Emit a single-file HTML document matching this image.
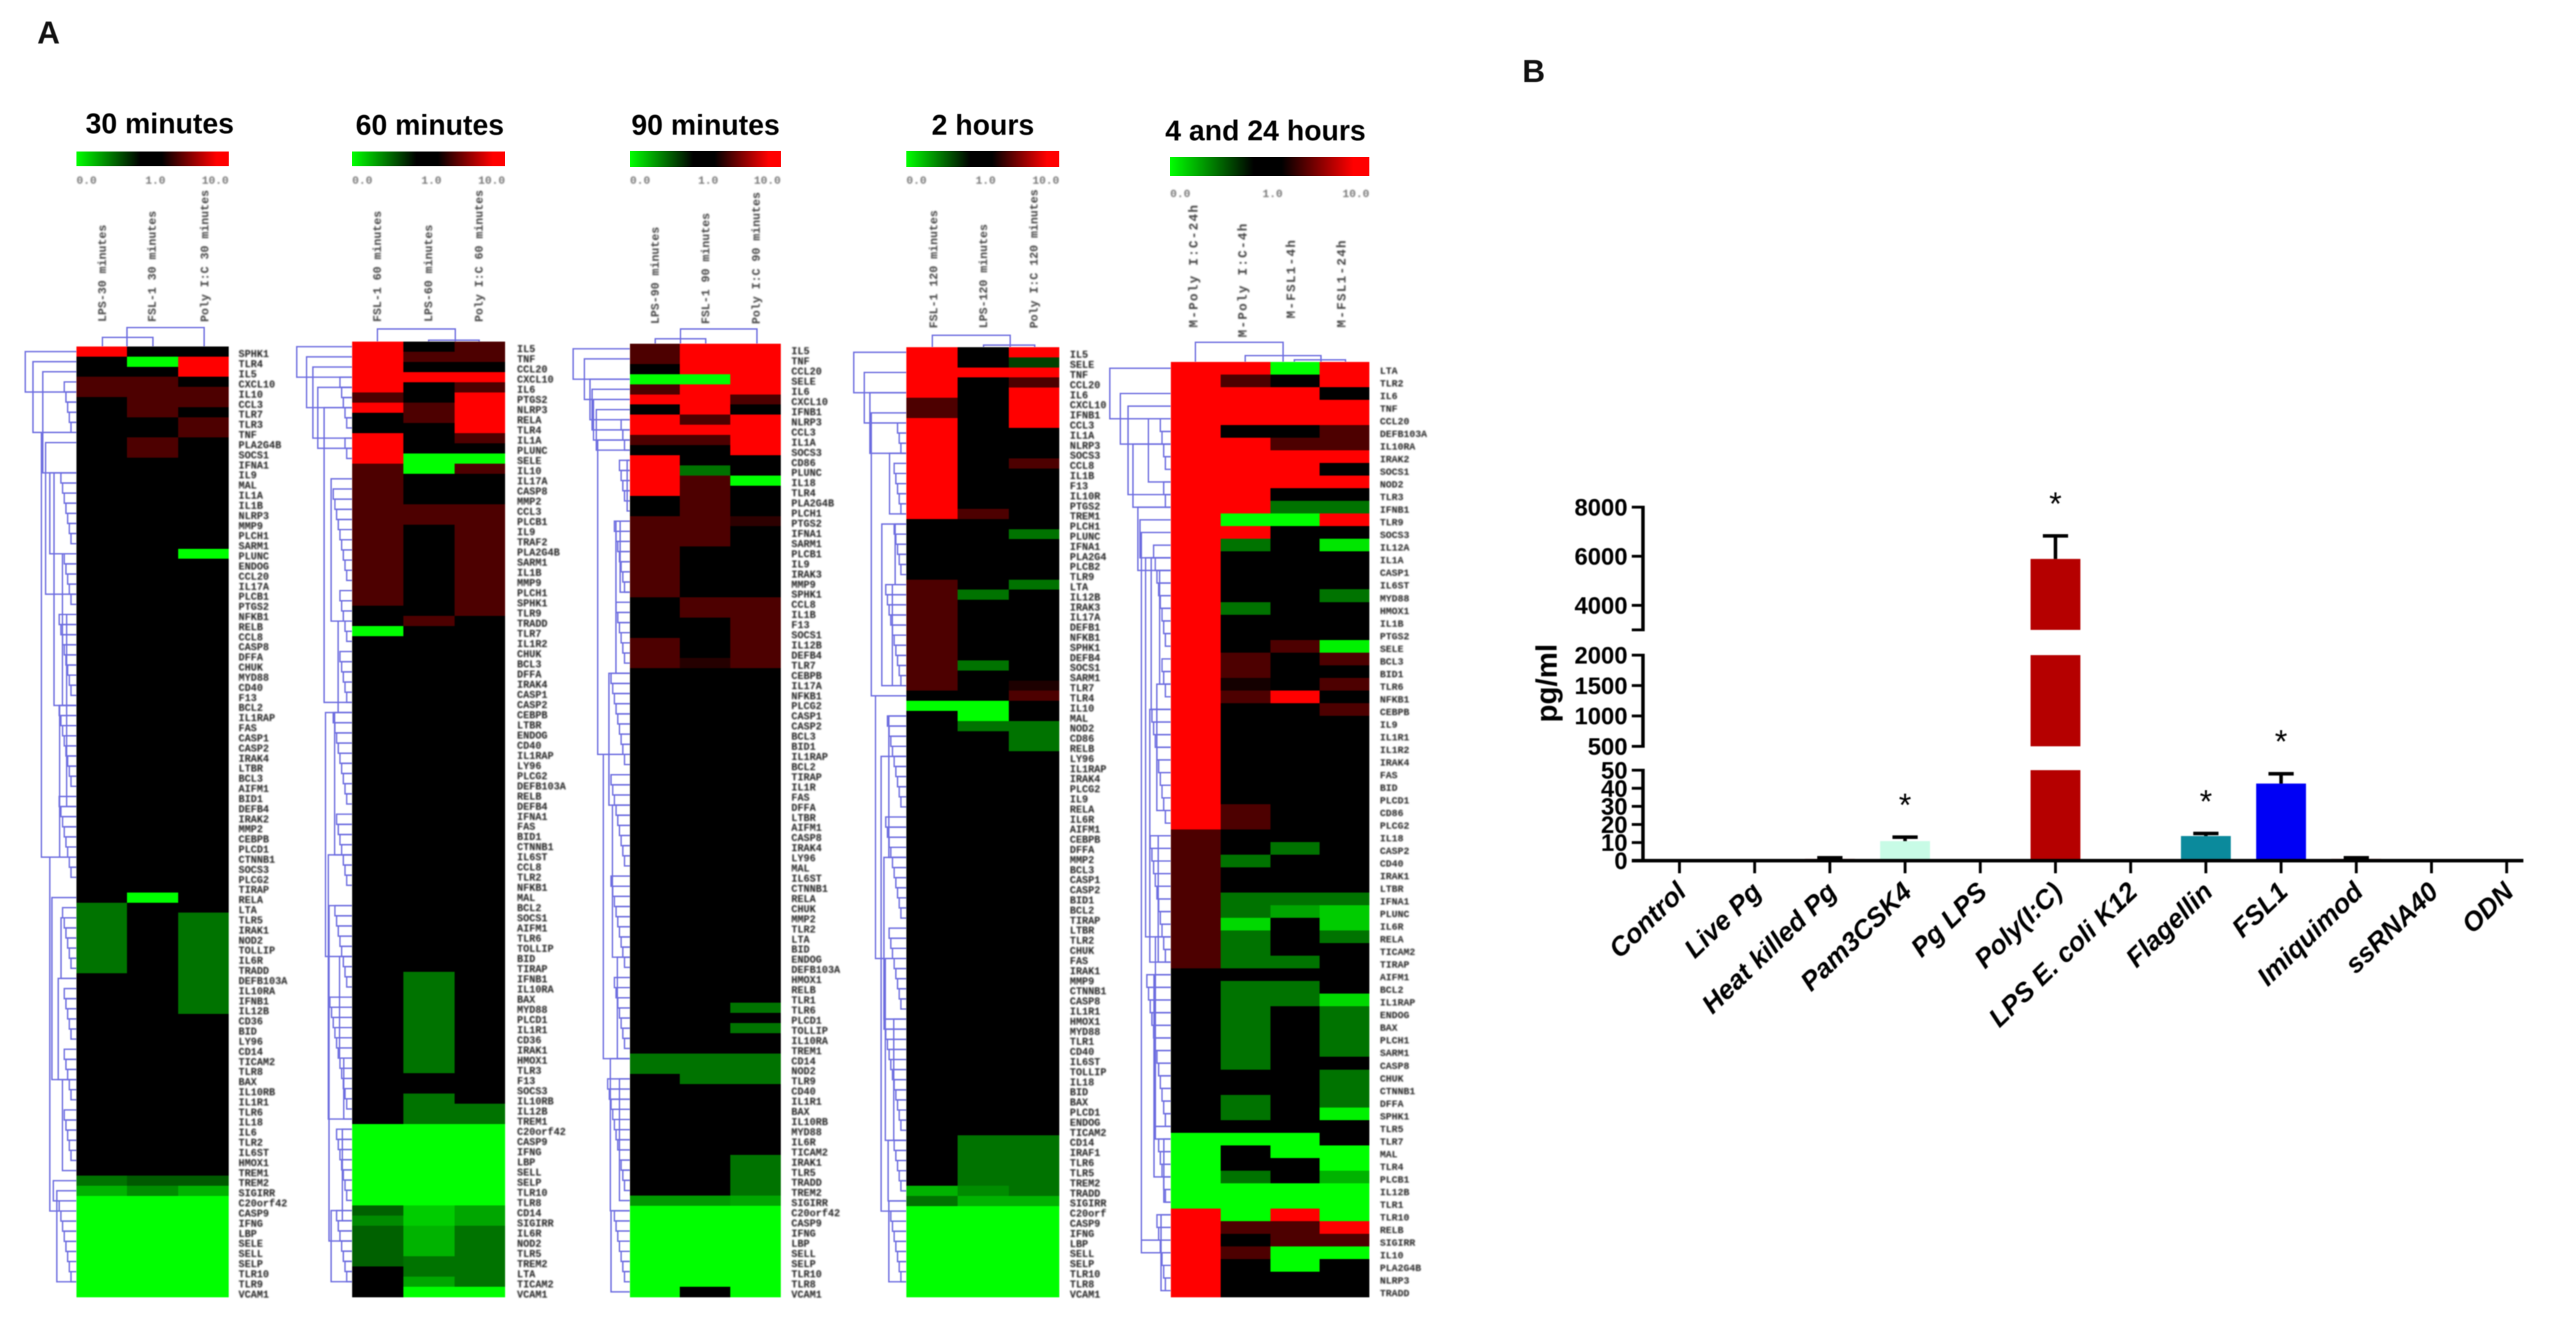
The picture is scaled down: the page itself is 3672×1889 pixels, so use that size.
<!DOCTYPE html>
<html lang="en">
<head>
<meta charset="utf-8">
<title>Cytokine expression heatmaps and TLR ligand response</title>
<style>
html,body{margin:0;padding:0;background:#fff;}
svg{display:block;}
.title{font-family:"Liberation Sans",sans-serif;font-weight:bold;font-size:40.5px;fill:#000;filter:blur(0.6px);}
.panel{font-family:"Liberation Sans",sans-serif;font-weight:bold;font-size:45px;fill:#111;filter:blur(0.5px);}
.gene{font-family:"Liberation Mono",monospace;font-weight:bold;font-size:14.5px;fill:#222;}
.gene5{font-size:14px;}
.scale{font-family:"Liberation Mono",monospace;font-weight:bold;font-size:16px;fill:#777;}
.col{font-family:"Liberation Mono",monospace;font-weight:bold;font-size:16.5px;fill:#444;}
.col5{font-size:18px;letter-spacing:1.8px;}
.ytick{font-family:"Liberation Sans",sans-serif;font-weight:bold;font-size:34px;fill:#000;}
.xtick{font-family:"Liberation Sans",sans-serif;font-weight:bold;font-style:italic;font-size:38px;fill:#000;}
.ytitle{font-family:"Liberation Sans",sans-serif;font-weight:bold;font-size:42px;fill:#000;}
.star{font-family:"Liberation Sans",sans-serif;font-weight:normal;font-size:46px;fill:#000;}
.soft{filter:blur(1px);}
.softer{filter:blur(0.7px);}
.genes{filter:blur(1px);}
.heat{filter:blur(0.7px);}
</style>
</head>
<body>
<svg id="root" xmlns="http://www.w3.org/2000/svg" width="3672" height="1889" viewBox="0 0 3672 1889">
<defs>
<linearGradient id="scaleGrad" x1="0" x2="1" y1="0" y2="0">
<stop offset="0" stop-color="#00ff00"/>
<stop offset="0.42" stop-color="#000000"/>
<stop offset="0.56" stop-color="#000000"/>
<stop offset="0.92" stop-color="#ff0000"/>
<stop offset="1" stop-color="#ff0000"/>
</linearGradient>
</defs>
<rect x="0" y="0" width="3672" height="1889" fill="#ffffff"/>
<text class="panel" x="53" y="62">A</text>
<text class="panel" x="2170" y="117">B</text>
<g id="heatLayer"></g>
<g id="barLayer"></g>
</svg>
<script>
/* ---------- Heatmap data: fold change per gene, one array per condition ---------- */
const genes30 = ["SPHK1","TLR4","IL5","CXCL10","IL10","CCL3","TLR7","TLR3","TNF","PLA2G4B","SOCS1","IFNA1","IL9","MAL","IL1A","IL1B","NLRP3","MMP9","PLCH1","SARM1","PLUNC","ENDOG","CCL20","IL17A","PLCB1","PTGS2","NFKB1","RELB","CCL8","CASP8","DFFA","CHUK","MYD88","CD40","F13","BCL2","IL1RAP","FAS","CASP1","CASP2","IRAK4","LTBR","BCL3","AIFM1","BID1","DEFB4","IRAK2","MMP2","CEBPB","PLCD1","CTNNB1","SOCS3","PLCG2","TIRAP","RELA","LTA","TLR5","IRAK1","NOD2","TOLLIP","IL6R","TRADD","DEFB103A","IL10RA","IFNB1","IL12B","CD36","BID","LY96","CD14","TICAM2","TLR8","BAX","IL10RB","IL1R1","TLR6","IL18","IL6","TLR2","IL6ST","HMOX1","TREM1","TREM2","SIGIRR","C20orf42","CASP9","IFNG","LBP","SELE","SELL","SELP","TLR10","TLR9","VCAM1"];
const lps30 = [10,1,1,2,2,1,1,1,1,1,
 1,1,1,1,1,1,1,1,1,1,
 1,1,1,1,1,1,1,1,1,1,
 1,1,1,1,1,1,1,1,1,1,
 1,1,1,1,1,1,1,1,1,1,
 1,1,1,1,1,.55,.55,.55,.55,.55,
 .55,.55,1,1,1,1,1,1,1,1,
 1,1,1,1,1,1,1,1,1,1,
 1,1,.55,.3,0,0,0,0,0,0,
 0,0,0,0];
const fsl30 = [1,0,1,2,2,2,2,1,1,2,
 2,1,1,1,1,1,1,1,1,1,
 1,1,1,1,1,1,1,1,1,1,
 1,1,1,1,1,1,1,1,1,1,
 1,1,1,1,1,1,1,1,1,1,
 1,1,1,1,0,1,1,1,1,1,
 1,1,1,1,1,1,1,1,1,1,
 1,1,1,1,1,1,1,1,1,1,
 1,1,.65,.45,0,0,0,0,0,0,
 0,0,0,0];
const poly30 = [1,10,10,1,2,2,1,2,2,1,
 1,1,1,1,1,1,1,1,1,1,
 0,1,1,1,1,1,1,1,1,1,
 1,1,1,1,1,1,1,1,1,1,
 1,1,1,1,1,1,1,1,1,1,
 1,1,1,1,1,1,.55,.55,.55,.55,
 .55,.55,.55,.55,.55,.55,1,1,1,1,
 1,1,1,1,1,1,1,1,1,1,
 1,1,.65,.3,0,0,0,0,0,0,
 0,0,0,0];

const genes60 = ["IL5","TNF","CCL20","CXCL10","IL6","PTGS2","NLRP3","RELA","TLR4","IL1A","PLUNC","SELE","IL10","IL17A","CASP8","MMP2","CCL3","PLCB1","IL9","TRAF2","PLA2G4B","SARM1","IL1B","MMP9","PLCH1","SPHK1","TLR9","TRADD","TLR7","IL1R2","CHUK","BCL3","DFFA","IRAK4","CASP1","CASP2","CEBPB","LTBR","ENDOG","CD40","IL1RAP","LY96","PLCG2","DEFB103A","RELB","DEFB4","IFNA1","FAS","BID1","CTNNB1","IL6ST","CCL8","TLR2","NFKB1","MAL","BCL2","SOCS1","AIFM1","TLR6","TOLLIP","BID","TIRAP","IFNB1","IL10RA","BAX","MYD88","PLCD1","IL1R1","CD36","IRAK1","HMOX1","TLR3","F13","SOCS3","IL10RB","IL12B","TREM1","C20orf42","CASP9","IFNG","LBP","SELL","SELP","TLR10","TLR8","CD14","SIGIRR","IL6R","NOD2","TLR5","TREM2","LTA","TICAM2","VCAM1"];
const fsl60 = [10,10,10,10,10,2,10,1,1,10,
 10,10,2,2,2,2,2,2,2,2,
 2,2,2,2,2,2,1,1,0,1,
 1,1,1,1,1,1,1,1,1,1,
 1,1,1,1,1,1,1,1,1,1,
 1,1,1,1,1,1,1,1,1,1,
 1,1,1,1,1,1,1,1,1,1,
 1,1,1,1,1,1,1,0,0,0,
 0,0,0,0,0,.62,.45,.62,.62,.62,
 .62,1,1,1];
const lps60 = [1,2,1,10,1,1,2,2,1,1,
 1,0,0,1,1,1,2,2,1,1,
 1,1,1,1,1,1,1,2,1,1,
 1,1,1,1,1,1,1,1,1,1,
 1,1,1,1,1,1,1,1,1,1,
 1,1,1,1,1,1,1,1,1,1,
 1,1,.55,.55,.55,.55,.55,.55,.55,.55,
 .55,.55,1,1,.55,.55,.55,0,0,0,
 0,0,0,0,0,.2,.2,.3,.3,.3,
 .55,.55,.35,0];
const poly60 = [2,2,1,10,2,10,10,10,10,2,
 1,0,2,1,1,1,2,2,2,2,
 2,2,2,2,2,2,2,1,1,1,
 1,1,1,1,1,1,1,1,1,1,
 1,1,1,1,1,1,1,1,1,1,
 1,1,1,1,1,1,1,1,1,1,
 1,1,1,1,1,1,1,1,1,1,
 1,1,1,1,1,.55,.55,0,0,0,
 0,0,0,0,0,.35,.35,.55,.55,.55,
 .55,.55,.55,0];

const genes90 = ["IL5","TNF","CCL20","SELE","IL6","CXCL10","IFNB1","NLRP3","CCL3","IL1A","SOCS3","CD86","PLUNC","IL18","TLR4","PLA2G4B","PLCH1","PTGS2","IFNA1","SARM1","PLCB1","IL9","IRAK3","MMP9","SPHK1","CCL8","IL1B","F13","SOCS1","IL12B","DEFB4","TLR7","CEBPB","IL17A","NFKB1","PLCG2","CASP1","CASP2","BCL3","BID1","IL1RAP","BCL2","TIRAP","IL1R","FAS","DFFA","LTBR","AIFM1","CASP8","IRAK4","LY96","MAL","IL6ST","CTNNB1","RELA","CHUK","MMP2","TLR2","LTA","BID","ENDOG","DEFB103A","HMOX1","RELB","TLR1","TLR6","PLCD1","TOLLIP","IL10RA","TREM1","CD14","NOD2","TLR9","CD40","IL1R1","BAX","IL10RB","MYD88","IL6R","TICAM2","IRAK1","TLR5","TRADD","TREM2","SIGIRR","C20orf42","CASP9","IFNG","LBP","SELL","SELP","TLR10","TLR8","VCAM1"];
const lps90 = [2,2,1,0,2,10,1,10,10,2,
 1,10,10,10,10,1,1,2,2,2,
 2,2,2,2,2,1,1,1,1,2,
 2,2,1,1,1,1,1,1,1,1,
 1,1,1,1,1,1,1,1,1,1,
 1,1,1,1,1,1,1,1,1,1,
 1,1,1,1,1,1,1,1,1,1,
 .55,.55,1,1,1,1,1,1,1,1,
 1,1,1,1,.4,0,0,0,0,0,
 0,0,0,0];
const fsl90 = [10,10,10,0,10,10,10,2,10,2,
 1,1,.55,2,2,2,2,2,2,2,
 1,1,1,1,1,2,2,1,1,1,
 1,1.4,1,1,1,1,1,1,1,1,
 1,1,1,1,1,1,1,1,1,1,
 1,1,1,1,1,1,1,1,1,1,
 1,1,1,1,1,1,1,1,1,1,
 .55,.55,.55,1,1,1,1,1,1,1,
 1,1,1,1,.4,0,0,0,0,0,
 0,0,0,1];
const poly90 = [10,10,10,10,10,2,1,10,10,10,
 10,1,1,0,1,1,1,1.5,1,1,
 1,1,1,1,1,2,2,2,2,2,
 2,2,1,1,1,1,1,1,1,1,
 1,1,1,1,1,1,1,1,1,1,
 1,1,1,1,1,1,1,1,1,1,
 1,1,1,1,1,.55,1,.55,1,1,
 .55,.55,.55,1,1,1,1,1,1,1,
 .55,.55,.55,.55,.35,0,0,0,0,0,
 0,0,0,0];

const genes120 = ["IL5","SELE","TNF","CCL20","IL6","CXCL10","IFNB1","CCL3","IL1A","NLRP3","SOCS3","CCL8","IL1B","F13","IL10R","PTGS2","TREM1","PLCH1","PLUNC","IFNA1","PLA2G4","PLCB2","TLR9","LTA","IL12B","IRAK3","IL17A","DEFB1","NFKB1","SPHK1","DEFB4","SOCS1","SARM1","TLR7","TLR4","IL10","MAL","NOD2","CD86","RELB","LY96","IL1RAP","IRAK4","PLCG2","IL9","RELA","IL6R","AIFM1","CEBPB","DFFA","MMP2","BCL3","CASP1","CASP2","BID1","BCL2","TIRAP","LTBR","TLR2","CHUK","FAS","IRAK1","MMP9","CTNNB1","CASP8","IL1R1","HMOX1","MYD88","TLR1","CD40","IL6ST","TOLLIP","IL18","BID","BAX","PLCD1","ENDOG","TICAM2","CD14","IRAF1","TLR6","TLR5","TREM2","TRADD","SIGIRR","C20orf","CASP9","IFNG","LBP","SELL","SELP","TLR10","TLR8","VCAM1"];
const fsl120 = [10,10,10,10,10,2,2,10,10,10,
 10,10,10,10,10,10,10,1,1,1,
 1,1,1,2,2,2,2,2,2,2,
 2,2,2,2,1,0,1,1,1,1,
 1,1,1,1,1,1,1,1,1,1,
 1,1,1,1,1,1,1,1,1,1,
 1,1,1,1,1,1,1,1,1,1,
 1,1,1,1,1,1,1,1,1,1,
 1,1,1,.3,.55,0,0,0,0,0,
 0,0,0,0];
const lps120 = [1,1,10,1,1,1,1,1,1,1,
 1,1,1,1,1,1,2,1,1,1,
 1,1,1,1,.55,1,1,1,1,1,
 1,.55,1,1,1,0,0,.55,1,1,
 1,1,1,1,1,1,1,1,1,1,
 1,1,1,1,1,1,1,1,1,1,
 1,1,1,1,1,1,1,1,1,1,
 1,1,1,1,1,1,1,1,.55,.55,
 .55,.55,.55,.45,.3,0,0,0,0,0,
 0,0,0,0];
const poly120 = [10,.75,10,2,10,10,10,10,1,1,
 1,2,1,1,1,1,1,1,.55,1,
 1,1,1,.55,1,1,1,1,1,1,
 1,1,1,1.3,2,1,1,.55,.55,.55,
 1,1,1,1,1,1,1,1,1,1,
 1,1,1,1,1,1,1,1,1,1,
 1,1,1,1,1,1,1,1,1,1,
 1,1,1,1,1,1,1,1,.55,.55,
 .55,.55,.55,.55,.3,0,0,0,0,0,
 0,0,0,0];

const genesLate = ["LTA","TLR2","IL6","TNF","CCL20","DEFB103A","IL10RA","IRAK2","SOCS1","NOD2","TLR3","IFNB1","TLR9","SOCS3","IL12A","IL1A","CASP1","IL6ST","MYD88","HMOX1","IL1B","PTGS2","SELE","BCL3","BID1","TLR6","NFKB1","CEBPB","IL9","IL1R1","IL1R2","IRAK4","FAS","BID","PLCD1","CD86","PLCG2","IL18","CASP2","CD40","IRAK1","LTBR","IFNA1","PLUNC","IL6R","RELA","TICAM2","TIRAP","AIFM1","BCL2","IL1RAP","ENDOG","BAX","PLCH1","SARM1","CASP8","CHUK","CTNNB1","DFFA","SPHK1","TLR5","TLR7","MAL","TLR4","PLCB1","IL12B","TLR1","TLR10","RELB","SIGIRR","IL10","PLA2G4B","NLRP3","TRADD"];
const polyLate24 = [10,10,10,10,10,10,10,10,10,10,
 10,10,10,10,10,10,10,10,10,10,
 10,10,10,10,10,10,10,10,10,10,
 10,10,10,10,10,10,10,2,2,2,
 2,2,2,2,2,2,2,2,1,1,
 1,1,1,1,1,1,1,1,1,1,
 1,0,0,0,0,0,0,10,10,10,
 10,10,10,10];
const polyLate4 = [10,2,10,10,10,1,10,10,10,10,
 10,10,0,10,.55,1,1,1,1,.55,
 1,1,1,2,2,1.2,2,1,1,1,
 1,1,1,1,1,2,2,1,1,.55,
 1,1,.55,.55,.15,.55,.55,.55,1,.55,
 .55,.55,.55,.55,.55,.55,1,1,.55,.55,
 1,0,1,1,.55,0,0,0,2,1,
 2,1,1,1];
const fslLate4 = [0,1,10,10,10,1,2,10,10,10,
 1,.55,0,1,1,1,1,1,1,1,
 1,1,2,1,1,1,10,1,1,1,
 1,1,1,1,1,1,1,1,.55,1,
 1,1,.55,.35,1,1,1,.55,1,.55,
 .55,1,1,1,1,1,1,1,1,1,
 1,0,0,1,1,0,0,10,2,2,
 0,0,1,1];
const fslLate24 = [10,10,1,10,10,2,2,10,1,10,
 1,.55,10,1,.1,1,1,1,.55,1,
 1,1,.05,2,1,2,1,2,1,1,
 1,1,1,1,1,1,1,1,1,1,
 1,1,.55,.2,.2,.55,1,1,1,1,
 .15,.55,.55,.55,.55,1,.55,.55,.55,.05,
 1,1,0,0,.3,0,0,0,10,2,
 0,1,1,1];

/* ---------- Dendrogram topology: [first row, last row, merge height] ---------- */
const tree30 = [[0,4,73],[1,8,62],[2,12,48],[9,24,44],[12,20,38],[8,50,50],[12,35,32],[20,35,20],[35,50,24],[26,45,14],[54,72,35],[56,62,22],[62,72,26],[72,81,20],[82,84,33],[83,92,28],[50,85,38]];
const tree60 = [[0,3,79],[1,6,65],[2,9,56],[4,10,49],[6,35,40],[13,27,30],[27,36,20],[36,60,38],[36,50,25],[50,76,34],[60,70,18],[70,76,12],[55,88,33],[77,86,14],[85,92,30]];
const tree90 = [[0,3,81],[1,5,65],[3,7,57],[4,8,54],[5,9,52],[6,10,48],[9,40,46],[11,16,4],[17,32,20],[17,24,14],[32,45,30],[40,70,38],[45,60,25],[60,70,18],[70,85,28],[72,84,15],[85,93,27]];
const tree120 = [[0,4,75],[2,7,60],[4,10,52],[6,34,50],[10,16,24],[17,33,35],[17,23,16],[23,33,20],[34,60,44],[36,50,25],[50,66,32],[60,78,30],[66,78,18],[78,84,26],[84,92,25],[40,85,36]];
const treeLate = [[0,4,87],[2,6,72],[3,10,61],[4,9,32],[6,11,54],[11,16,47],[12,15,44],[13,69,42],[16,25,16],[15,27,28],[15,45,36],[25,35,20],[27,47,30],[37,47,18],[48,60,24],[45,61,22],[61,66,10],[60,64,24],[67,73,14],[69,70,42]];
const leaves30 = [[3,9],[12,20],[20,26],[26,35],[35,44],[44,53],[55,62],[63,69],[69,75],[75,81],[84,93]];
const leaves60 = [[3,9],[9,12],[14,24],[24,30],[30,36],[36,46],[46,54],[55,64],[64,76],[77,85],[85,93]];
const leaves90 = [[7,11],[11,16],[17,25],[25,32],[32,42],[42,52],[52,62],[62,70],[72,84],[85,93]];
const leaves120 = [[7,11],[11,17],[17,23],[23,34],[36,46],[46,57],[57,66],[66,78],[78,84],[85,93]];
const leavesLate = [[4,9],[9,12],[14,23],[23,27],[27,37],[37,48],[48,61],[61,67],[67,74]];

/* ---------- Bar chart data ---------- */
const categories = ["Control","Live Pg","Heat killed Pg","Pam3CSK4","Pg LPS","Poly(I:C)","LPS E. coli K12","Flagellin","FSL1","Imiquimod","ssRNA40","ODN"];
const concentration = [0,0,1,10.8,0,5890,0,13.6,42.6,1,0,0];
const concentrationSem = [0,0,.6,2.2,0,940,0,1.4,5.4,.6,0,0];
const significant = [0,0,0,1,0,1,0,1,1,0,0,0];
const lowTicks = [0,10,20,30,40,50];
const midTicks = [500,1000,1500,2000];
const highTicks = [4000,6000,8000];

const NS = 'http://www.w3.org/2000/svg';
function mk(parent, tag, attrs, txt){
  const el = document.createElementNS(NS, tag);
  for (const k in attrs) el.setAttribute(k, attrs[k]);
  if (txt !== undefined) el.textContent = txt;
  parent.appendChild(el);
  return el;
}
function fold2color(v){
  if (v <= 1) return 'rgb(0,' + Math.round((1 - Math.max(v,0)) * 255) + ',0)';
  return 'rgb(' + Math.round(Math.min(Math.log10(v),1) * 255) + ',0,0)';
}

const heatLayer = document.getElementById('heatLayer');
const panels = [
 {key:'30-minutes',title:'30 minutes',tx:122,ty:190,xs:[109,181,254,326],top:494,bottom:1849,bar:[109,326,216,237],sy:262,gx:340,gdy:3,genes:genes30,tree:tree30,leaves:leaves30,
  cols:[{n:'LPS-30 minutes',d:lps30,x:146,b:459},{n:'FSL-1 30 minutes',d:fsl30,x:217,b:459},{n:'Poly I:C 30 minutes',d:poly30,x:292,b:459}],
  ct:[[146,218,481],[181,291,467]]},
 {key:'60-minutes',title:'60 minutes',tx:507,ty:192,xs:[502,575,648,720],top:487,bottom:1849,bar:[502,720,216,237],sy:262,gx:737,gdy:3,genes:genes60,tree:tree60,leaves:leaves60,
  cols:[{n:'FSL-1 60 minutes',d:fsl60,x:538,b:459},{n:'LPS-60 minutes',d:lps60,x:611,b:459},{n:'Poly I:C 60 minutes',d:poly60,x:683,b:459}],
  ct:[[538,649,469],[611,683,485]]},
 {key:'90-minutes',title:'90 minutes',tx:900,ty:192,xs:[898,969,1041,1113],top:490,bottom:1849,bar:[898,1113,215,238],sy:262,gx:1128,gdy:3,genes:genes90,tree:tree90,leaves:leaves90,
  cols:[{n:'LPS-90 minutes',d:lps90,x:934,b:462},{n:'FSL-1 90 minutes',d:fsl90,x:1006,b:462},{n:'Poly I:C 90 minutes',d:poly90,x:1078,b:462}],
  ct:[[934,1006,483],[970,1079,469]]},
 {key:'2-hours',title:'2 hours',tx:1328,ty:192,xs:[1292,1365,1438,1510],top:495,bottom:1849,bar:[1292,1510,215,238],sy:262,gx:1525,gdy:3,genes:genes120,tree:tree120,leaves:leaves120,
  cols:[{n:'FSL-1 120 minutes',d:fsl120,x:1331,b:468},{n:'LPS-120 minutes',d:lps120,x:1402,b:468},{n:'Poly I:C 120 minutes',d:poly120,x:1474,b:468}],
  ct:[[1329,1440,478],[1402,1475,492]]},
 {key:'4-and-24-hours',title:'4 and 24 hours',tx:1661,ty:200,xs:[1669,1740,1811,1881,1952],top:516,bottom:1849,bar:[1668,1952,224,251],sy:281,gx:1967,gdy:3,late:true,genes:genesLate,tree:treeLate,leaves:leavesLate,
  cols:[{n:'M-Poly I:C-24h',d:polyLate24,x:1702,b:467},{n:'M-Poly I:C-4h',d:polyLate4,x:1772,b:481},{n:'M-FSL1-4h',d:fslLate4,x:1841,b:454},{n:'M-FSL1-24h',d:fslLate24,x:1913,b:467}],
  ct:[[1704,1829,488],[1775,1883,507],[1845,1918,513]]}
];

panels.forEach(function(p){
  const g = mk(heatLayer,'g',{});
  
  

  const t = mk(g,'text',{class:'title',x:p.tx,y:p.ty},p.title);
  
  

  const sb = mk(g,'rect',{x:p.bar[0],y:p.bar[2],width:p.bar[1]-p.bar[0],height:p.bar[3]-p.bar[2],fill:'url(#scaleGrad)'});
  
  

  const sg = mk(g,'g',{class:'soft'});
  [['0.0',p.bar[0],'start'],['1.0',(p.bar[0]+p.bar[1])/2+4,'middle'],['10.0',p.bar[1],'end']].forEach(function(s){
    const st = mk(sg,'text',{class:'scale',x:s[1],y:p.sy,'text-anchor':s[2]},s[0]);
    
    
  });

  const cg = mk(g,'g',{class:'soft'});
  p.cols.forEach(function(c){
    const ct = mk(cg,'text',{class:p.late?'col col5':'col',x:c.x+5,y:c.b,transform:'rotate(-90 '+(c.x+5)+' '+c.b+')'},c.n);
    
    
  });

  const n = p.genes.length;
  const rowH = (p.bottom - p.top) / n;
  const rowY = function(r){ return p.top + r * rowH; };
  const left = p.xs[0];

  const dg = mk(g,'g',{class:'softer',fill:'none',stroke:'#6e6ee0','stroke-width':2});
  
  
  const bracket = function(a,b,d){
    const ya = rowY(a+.5), yb = rowY(b+.5), x = left-d;
    mk(dg,'path',{d:'M'+left+' '+ya+'H'+x+'V'+yb+'H'+left});
  };
  p.tree.forEach(function(t){ bracket(t[0],t[1],t[2]); });
  p.leaves.forEach(function(l){
    for (let r=l[0]; r<l[1]-1; r++) bracket(r,r+1,3+(l[1]-r)*2.4);
  });

  const tg = mk(g,'g',{class:'softer',fill:'none',stroke:'#6e6ee0','stroke-width':2});
  
  
  p.ct.forEach(function(c){
    mk(tg,'path',{d:'M'+c[0]+' '+p.top+'V'+c[2]+'H'+c[1]+'V'+p.top});
  });

  const hg = mk(g,'g',{class:'heat','shape-rendering':'crispEdges'});
  p.cols.forEach(function(c,ci){
    c.d.forEach(function(v,r){
      const cell = mk(hg,'rect',{x:p.xs[ci],y:rowY(r),width:p.xs[ci+1]-p.xs[ci],height:rowH+.5,fill:fold2color(v)});
      
      
    });
  });

  const lg = mk(g,'g',{class:'genes'});
  p.genes.forEach(function(name,r){
    const gl = mk(lg,'text',{class:p.late?'gene gene5':'gene',x:p.gx,y:rowY(r+.5)+p.gdy+5},name);
    
    
  });
});

/* ---------- Bar chart with broken y axis ---------- */
const barLayer = document.getElementById('barLayer');
const segments = [
 {lo:0,hi:50,y0:1227,y1:1098},
 {lo:500,hi:2000,y0:1064,y1:934},
 {lo:3000,hi:8000,y0:898,y1:723}
];
const barStyle = {"Heat killed Pg":"#b80000","Pam3CSK4":"#c8fbe6","Poly(I:C)":"#b50000","Flagellin":"#0b8a9c","FSL1":"#0000f5","Imiquimod":"#b80000"};
const axisX = 2342;
function xScale(i){ return 2394 + i * 107.2; }
function yIn(seg,v){ return seg.y0 + (v - seg.lo) / (seg.hi - seg.lo) * (seg.y1 - seg.y0); }
function yScale(v){
  for (const s of segments){ if (v <= s.hi) return yIn(s, Math.max(v, s.lo)); }
  return segments[2].y1;
}
const barG = mk(barLayer,'g',{class:'softer'});
categories.forEach(function(name,i){
  const v = concentration[i], e = concentrationSem[i], cx = xScale(i), w = 71;
  segments.forEach(function(s){
    if (v <= s.lo) return;
    const top = yIn(s, Math.min(v, s.hi)), bot = s.y0;
    const b = mk(barG,'rect',{x:cx-w/2,y:top,width:w,height:bot-top,fill:barStyle[name]||'#000'});
    
    
  });
  if (e > 0){
    const yT = yScale(v+e), yB = yScale(v);
    const eb = mk(barG,'path',{d:'M'+cx+' '+yB+'V'+yT+'M'+(cx-18)+' '+yT+'H'+(cx+18),stroke:'#000','stroke-width':5,fill:'none'});
    
    
  }
  if (significant[i]){
    const st = mk(barG,'text',{class:'star',x:cx,y:yScale(v+e)-54+24,'text-anchor':'middle'},'*');
    
    
  }
  const tk = mk(barG,'line',{x1:cx,x2:cx,y1:1227,y2:1245,stroke:'#000','stroke-width':4});
  
  
  const lx = cx + 12, ly = 1274;
  const lb = mk(barG,'text',{class:'xtick',x:lx,y:ly,'text-anchor':'end',transform:'rotate(-44 '+lx+' '+ly+')'},name);
  
  
});
const xAxis = mk(barG,'line',{x1:axisX-16,x2:3597,y1:1227,y2:1227,stroke:'#000','stroke-width':5});


segments.forEach(function(s,si){
  const ax = mk(barG,'line',{x1:axisX,x2:axisX,y1:s.y0+2,y2:s.y1-2,stroke:'#000','stroke-width':5});
  
  
  const ticks = [lowTicks,midTicks,highTicks][si];
  ticks.forEach(function(v){
    const y = yIn(s,v);
    const tk = mk(barG,'line',{x1:axisX-16,x2:axisX,y1:y,y2:y,stroke:'#000','stroke-width':4});
    
    
    const tl = mk(barG,'text',{class:'ytick',x:2320,y:y+12,'text-anchor':'end'},String(v));
    
    
  });
  if (si === 2){
    const end = mk(barG,'line',{x1:axisX-16,x2:axisX,y1:s.y0,y2:s.y0,stroke:'#000','stroke-width':4});
    
    
  }
});
const yTitle = mk(barG,'text',{class:'ytitle',x:2219,y:1030,transform:'rotate(-90 2219 1030)'},'pg/ml');


</script>
</body>
</html>
